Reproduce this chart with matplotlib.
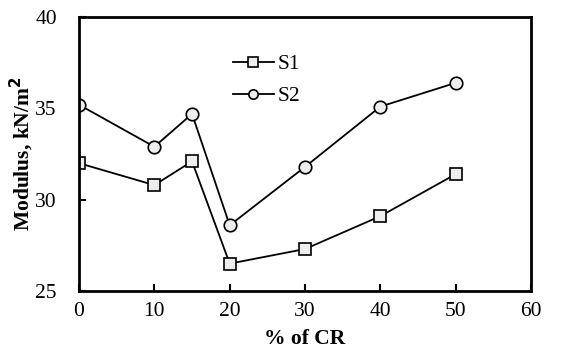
import matplotlib
matplotlib.use("Agg")
import matplotlib.pyplot as plt

cr = [0, 10, 15, 20, 30, 40, 50]
s1 = [32.0, 30.8, 32.1, 26.5, 27.3, 29.1, 31.4]
s2 = [35.2, 32.9, 34.7, 28.6, 31.8, 35.1, 36.4]

plt.rcParams['font.family'] = ['Liberation Serif', 'DejaVu Serif']

fig = plt.figure(figsize=(5.62, 3.64), dpi=100)
ax = fig.add_axes([0.1406, 0.2005, 0.8044, 0.7525])

ax.plot(cr, s1, '-s', color='black', lw=1.3, ms=9, mfc='#eeeeee', mec='black', mew=1.2, label='S1')
ax.plot(cr, s2, '-o', color='black', lw=1.3, ms=9, mfc='#eeeeee', mec='black', mew=1.2, label='S2')

ax.set_xlim(0, 60)
ax.set_ylim(25, 40)
ax.set_xticks(range(0, 61, 10))
ax.set_yticks([25, 30, 35, 40])
ax.tick_params(direction='in', length=5, width=1.5, labelsize=15.5, pad=8)
ax.tick_params(axis='y', pad=16)
for s in ax.spines.values():
    s.set_linewidth(2)
ax.set_xlabel('% of CR', fontsize=15.5, fontweight='bold', labelpad=6)
ax.set_ylabel('Modulus, kN/m$^\\mathbf{2}$', fontsize=15.5, fontweight='bold')
ax.yaxis.set_label_coords(-0.095, 0.5)

ax.legend(loc='upper left', bbox_to_anchor=(0.34, 0.865), frameon=False, fontsize=15.5,
          handlelength=1.9, handletextpad=0.2, labelspacing=0.55, markerscale=0.75,
          borderpad=0, borderaxespad=0)

fig.savefig('out.png', dpi=100)
